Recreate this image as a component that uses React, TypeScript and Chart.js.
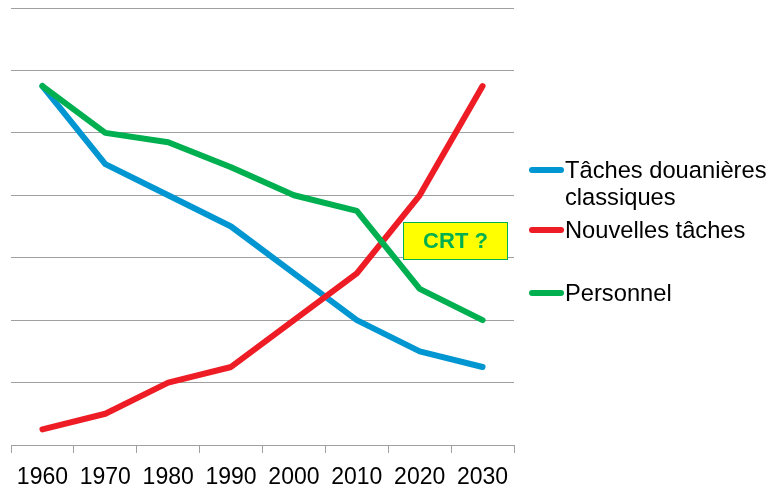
import React, { useEffect, useRef } from "react";
import { Chart, registerables } from "chart.js";

Chart.register(...registerables);

const years = ["1960", "1970", "1980", "1990", "2000", "2010", "2020", "2030"];
const tachesClassiques = [5.75, 4.5, 4.0, 3.5, 2.75, 2.0, 1.5, 1.25];
const nouvellesTaches = [0.25, 0.5, 1.0, 1.25, 2.0, 2.75, 4.0, 5.75];
const personnel = [5.75, 5.0, 4.85, 4.45, 4.0, 3.75, 2.5, 2.0];

const seriesNames = [["Tâches douanières", "classiques"], ["Nouvelles tâches"], ["Personnel"]];
const seriesColors = ["#0096D2", "#EE1C25", "#00B050"];

const boxLabel = "CRT ?";
// annotation box in data coordinates (category index, value)
const boxX = [5.73, 7.4];
const boxY = [3.57, 2.96];

const FONT = "'Liberation Sans', Arial, sans-serif";

const overlayPlugin = {
  id: "overlay",
  afterDatasetsDraw(chart: any) {
    const { ctx, scales } = chart;
    const xs = scales.x;
    const ys = scales.y;
    const x1 = Math.round(xs.getPixelForValue(boxX[0]));
    const x2 = Math.round(xs.getPixelForValue(boxX[1]));
    const y1 = Math.round(ys.getPixelForValue(boxY[0]));
    const y2 = Math.round(ys.getPixelForValue(boxY[1]));
    ctx.save();
    ctx.fillStyle = "#FFFF00";
    ctx.fillRect(x1, y1, x2 - x1, y2 - y1);
    ctx.strokeStyle = "#00B050";
    ctx.lineWidth = 1;
    ctx.strokeRect(x1 + 0.5, y1 + 0.5, x2 - x1 - 1, y2 - y1 - 1);
    ctx.fillStyle = "#00B050";
    ctx.font = `bold 22px ${FONT}`;
    ctx.textAlign = "center";
    ctx.textBaseline = "middle";
    ctx.fillText(boxLabel, (x1 + x2) / 2, (y1 + y2) / 2 + 1);
    ctx.restore();
  },
  afterDraw(chart: any) {
    const { ctx, chartArea } = chart;
    const lx = chartArea.right + 18;
    const rows = [170, 230, 293];
    ctx.save();
    ctx.font = `23.7px ${FONT}`;
    ctx.textBaseline = "middle";
    ctx.textAlign = "left";
    rows.forEach((y, i) => {
      ctx.strokeStyle = seriesColors[i];
      ctx.lineWidth = 6;
      ctx.lineCap = "round";
      ctx.beginPath();
      ctx.moveTo(lx, y);
      ctx.lineTo(lx + 29, y);
      ctx.stroke();
      ctx.fillStyle = "#000000";
      seriesNames[i].forEach((t, j) => {
        ctx.fillText(t, lx + 33, y + j * 27 + 1);
      });
    });
    ctx.restore();
  },
};

export default function App() {
  const ref = useRef<HTMLCanvasElement>(null);
  useEffect(() => {
    document.body.style.margin = "0";
    const data = [tachesClassiques, nouvellesTaches, personnel];
    const chart = new Chart(ref.current!, {
      type: "line",
      data: {
        labels: years,
        datasets: data.map((d, i) => ({
          label: seriesNames[i].join(" "),
          data: d,
          borderColor: seriesColors[i],
          backgroundColor: seriesColors[i],
          borderWidth: 6,
          pointRadius: 0,
          tension: 0,
          borderCapStyle: "round" as const,
          borderJoinStyle: "round" as const,
          order: 2 - i,
        })),
      },
      options: {
        responsive: false,
        animation: false,
        layout: { padding: { left: 11, top: 8, right: 259, bottom: 0 } },
        plugins: { legend: { display: false }, tooltip: { enabled: false } },
        scales: {
          x: {
            offset: true,
            afterFit: (scale: any) => {
              scale.height = 46;
            },
            grid: {
              offset: true,
              drawOnChartArea: false,
              drawTicks: true,
              tickLength: 8,
              color: "#A0A0A0",
            },
            border: { display: true, color: "#A0A0A0", width: 1 },
            ticks: {
              color: "#000000",
              font: { family: FONT, size: 23, lineHeight: 1 },
              padding: 13,
              maxRotation: 0,
              autoSkip: false,
            },
          },
          y: {
            min: 0,
            max: 7,
            ticks: { display: false, stepSize: 1 },
            grid: { color: "#A0A0A0", drawTicks: false },
            border: { display: false },
          },
        },
      },
      plugins: [overlayPlugin],
    });
    return () => chart.destroy();
  }, []);
  return (
    <div style={{ width: 773, height: 491 }}>
      <canvas ref={ref} width={773} height={491} />
    </div>
  );
}
